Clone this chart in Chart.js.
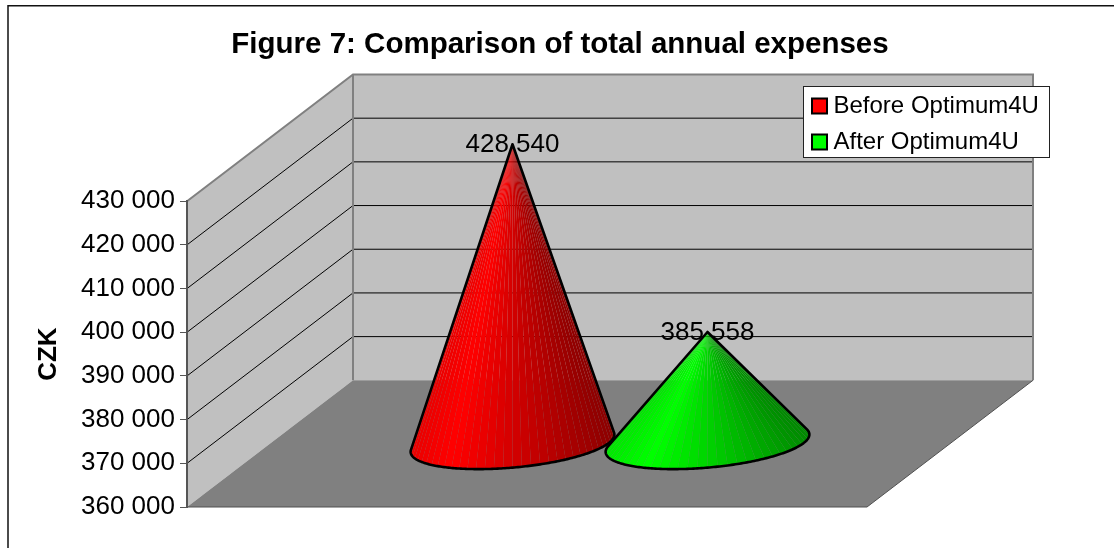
<!DOCTYPE html>
<html><head><meta charset="utf-8">
<style>html,body{margin:0;padding:0;background:#fff}#w{width:1114px;height:548px}</style>
<script src="https://cdn.jsdelivr.net/npm/chart.js@4"></script>
</head><body><div id="w"><canvas id="c" width="1114" height="548"></canvas></div>
<script>
const categories = ['Total annual expenses'];
const seriesNames = ['Before Optimum4U', 'After Optimum4U'];
const beforeValues = [428540];
const afterValues = [385558];
const axisMin = 360000, axisMax = 430000, axisStep = 10000;
const FONT = '"Liberation Sans", Arial, sans-serif';
const fmt = v => String(Math.round(v)).replace(/\B(?=(\d{3})+$)/g, ' ');

const DX = 166, DY = -126.7;      // depth of the 3D box
const RATIO = 0.41;               // cone base depth vs half box depth
const BASES = [[255,0,0],[0,255,0]];

function shade(rgb, f){ return 'rgb(' + rgb.map(c => Math.round(c ? c * f : 0)).join(',') + ')'; }
function shadeAt(u){ // u 0..1 left to right across the visible cone
  if (u < 0.2) return 0.92 + 0.08 * u / 0.2;
  return 1 - 0.45 * (u - 0.2) / 0.8;
}
function drawCone(ctx, el, rgb){
  const cx = el.x + DX / 2, cy = el.base + DY / 2;
  const ax = el.x + DX / 2, ay = el.y + DY / 2;
  const a = el.width / 2 * 0.985, bx = DX / 2 * RATIO, by = DY / 2 * RATIO;
  const pt = t => [cx + a * Math.cos(t) + bx * Math.sin(t), cy + by * Math.sin(t)];
  const N = 720;
  let tL = 0, tR = 0, minA = Infinity, maxA = -Infinity;
  for (let i = 0; i < N; i++) {
    const t = i / N * 2 * Math.PI, p = pt(t);
    const ang = Math.atan2(p[0] - ax, p[1] - ay);
    if (ang < minA) { minA = ang; tL = t; }
    if (ang > maxA) { maxA = ang; tR = t; }
  }
  // visible arc: from the left tangent through the lowest point to the right tangent
  const M = 180;
  const twoPi = 2 * Math.PI;
  const norm = t => ((t % twoPi) + twoPi) % twoPi;
  const spanA = norm(tL - tR);
  const low = [Math.PI / 2, 1.5 * Math.PI].reduce((b, t) => pt(t)[1] > pt(b)[1] ? t : b);
  const mid = norm(low - tR);
  const arc = [];
  if (mid <= spanA) { for (let i = 0; i <= M; i++) arc.push(pt(tR + spanA * i / M)); }
  else { const s2 = twoPi - spanA; for (let i = 0; i <= M; i++) arc.push(pt(tR - s2 * i / M)); }
  if (arc[0][0] > arc[M][0]) arc.reverse();
  const S = 36, step = M / S;
  const xL = arc[0][0], xR = arc[M][0];
  for (let s = 0; s < S; s++) {
    ctx.beginPath();
    ctx.moveTo(ax, ay);
    for (let i = Math.round(s * step); i <= Math.round((s + 1) * step); i++) ctx.lineTo(arc[i][0], arc[i][1]);
    ctx.closePath();
    const m = arc[Math.round((s + .5) * step)];
    ctx.fillStyle = shade(rgb, shadeAt((m[0] - xL) / (xR - xL)));
    ctx.fill();
  }
  ctx.beginPath();
  ctx.moveTo(ax, ay);
  arc.forEach(p => ctx.lineTo(p[0], p[1]));
  ctx.closePath();
  ctx.lineWidth = 2.6; ctx.strokeStyle = '#000'; ctx.lineJoin = 'round'; ctx.stroke();
}

const box3d = {
  id: 'box3d',
  beforeDraw(chart){
    const {ctx, chartArea: ca, scales: {y}} = chart;
    const L = ca.left, R = ca.right, B = y.getPixelForValue(axisMin), T = y.getPixelForValue(axisMax);
    ctx.save();
    // outer frame
    ctx.strokeStyle = '#111'; ctx.lineWidth = 1.5;
    ctx.beginPath(); ctx.moveTo(8, 548); ctx.lineTo(8, 5.8); ctx.lineTo(1114, 5.8); ctx.stroke();
    // walls
    ctx.fillStyle = '#C0C0C0';
    ctx.beginPath(); ctx.moveTo(L, T); ctx.lineTo(L + DX, T + DY); ctx.lineTo(R + DX, T + DY); ctx.lineTo(R + DX, B + DY); ctx.lineTo(L + DX, B + DY); ctx.lineTo(L, B); ctx.closePath(); ctx.fill();
    // grid
    ctx.strokeStyle = '#000'; ctx.lineWidth = 1;
    y.ticks.forEach(t => {
      if (t.value <= axisMin || t.value >= axisMax) return;
      const p = y.getPixelForValue(t.value);
      ctx.beginPath(); ctx.moveTo(L, p); ctx.lineTo(L + DX, p + DY); ctx.lineTo(R + DX, p + DY); ctx.stroke();
    });
    // floor
    ctx.fillStyle = '#808080';
    ctx.beginPath(); ctx.moveTo(L, B); ctx.lineTo(R, B); ctx.lineTo(R + DX, B + DY); ctx.lineTo(L + DX, B + DY); ctx.closePath(); ctx.fill();
    // wall edges
    ctx.strokeStyle = '#808080'; ctx.lineWidth = 2;
    ctx.beginPath(); ctx.moveTo(L, T); ctx.lineTo(L + DX, T + DY); ctx.lineTo(R + DX, T + DY); ctx.lineTo(R + DX, B + DY); ctx.moveTo(L + DX, T + DY); ctx.lineTo(L + DX, B + DY); ctx.stroke();
    // floor front edges
    ctx.strokeStyle = '#505050'; ctx.lineWidth = 1;
    ctx.beginPath(); ctx.moveTo(L, B); ctx.lineTo(R, B); ctx.lineTo(R + DX, B + DY); ctx.stroke();
    // legend frame and legend placement
    const lg = chart.legend;
    lg.left = 805.5; lg.top = 82; lg.right = 1050; lg.bottom = 300; lg.width = 244.5; lg.height = 218;
    ctx.fillStyle = '#fff'; ctx.fillRect(803.5, 86.5, 246, 71);
    ctx.strokeStyle = '#222'; ctx.lineWidth = 1; ctx.strokeRect(803.5, 86.5, 246, 71);
    ctx.restore();
  },
  beforeDatasetDraw(){ return false; },
  afterDatasetsDraw(chart){
    const {ctx} = chart;
    ctx.save();
    chart.data.datasets.forEach((d, i) => drawCone(ctx, chart.getDatasetMeta(i).data[0], BASES[i]));
    ctx.fillStyle = '#000'; ctx.font = '26px ' + FONT; ctx.textAlign = 'center'; ctx.textBaseline = 'middle';
    chart.data.datasets.forEach((d, i) => {
      const el = chart.getDatasetMeta(i).data[0];
      ctx.fillText(fmt(d.data[0]), el.x + DX / 2, el.y + DY / 2 + 1);
    });
    ctx.restore();
  }
};

new Chart(document.getElementById('c'), {
  type: 'bar',
  data: {
    labels: categories,
    datasets: [
      {label: seriesNames[0], data: beforeValues, base: axisMin, backgroundColor: '#FF0000', borderColor: '#000', borderWidth: 2},
      {label: seriesNames[1], data: afterValues, base: axisMin, backgroundColor: '#00FF00', borderColor: '#000', borderWidth: 2}
    ]
  },
  options: {
    responsive: false, animation: false,
    categoryPercentage: 0.5735, barPercentage: 1,
    layout: {padding: {left: 6, right: 0, top: 0, bottom: 41}},
    plugins: {
      title: {display: true, text: 'Figure 7: Comparison of total annual expenses', color: '#000',
        font: {family: FONT, size: 29.5, weight: 'bold'}, padding: {top: 27, bottom: 138.8}},
      legend: {position: 'chartArea', align: 'start',
        labels: {font: {family: FONT, size: 24}, color: '#000', usePointStyle: true, pointStyle: 'rect', boxWidth: 4, boxHeight: 15, padding: 12}},
      tooltip: {enabled: false}
    },
    scales: {
      x: {display: false},
      y: {min: axisMin, max: axisMax, position: 'left',
        afterFit(s){ s.width = 181; },
        ticks: {stepSize: axisStep, color: '#000', padding: 5, font: {family: FONT, size: 26}, callback: v => fmt(v)},
        grid: {drawOnChartArea: false, drawTicks: true, tickLength: 7, tickColor: '#555', tickWidth: 1},
        border: {display: true, color: '#555', width: 2},
        title: {display: true, text: 'CZK', color: '#000', font: {family: FONT, size: 26, weight: 'bold'}, padding: {top: 27, bottom: 0}}
      },
      r: {position: 'right', display: true, afterFit(s){ s.width = 247; },
        ticks: {display: false}, grid: {display: false}, border: {display: false}}
    }
  },
  plugins: [box3d]
});
</script></body></html>
